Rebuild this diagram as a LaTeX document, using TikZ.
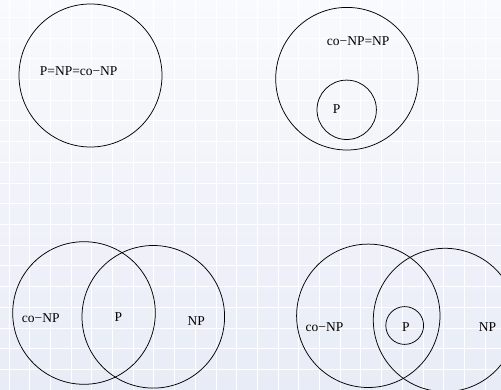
\documentclass[tikz,border=0pt]{standalone}
\usepackage{fontspec}
\setmainfont{Liberation Serif}
\usetikzlibrary{positioning}
\definecolor{bgtop}{RGB}{249,250,253}
\definecolor{bgbot}{RGB}{232,236,246}

\begin{document}
\begin{tikzpicture}[x=1pt,y=-1pt,
    set/.style={circle,draw,inner sep=0pt,line width=0.75pt,minimum size=#1},
    lbl/.style={inner sep=0pt,font=\fontsize{13.5}{16}\selectfont},
]
\useasboundingbox (0,0) rectangle (501,390);
\clip (0,0) rectangle (501,390);

% Background with grid
\shade[top color=bgtop,bottom color=bgbot] (0,0) rectangle (501,390);
\foreach \i in {0,...,23} {
  \draw[white,line width=1pt] (9+20.7*\i,0) -- (9+20.7*\i,390);
}
\foreach \j in {0,...,18} {
  \draw[white,line width=1pt] (0,17.5+20.7*\j) -- (501,17.5+20.7*\j);
}

% P = NP = co-NP
\node[set=143pt] (all) at (90.5,75.5) {};
\node[lbl] (allt) at (78.7,71.5) {P=NP=co−NP};

% co-NP = NP with P inside
\node[set=142.6pt] (conpnp) at (347,78.7) {};
\node[set=59.4pt] (p2) at (346.7,109.8) {};
\node[lbl] (conpnpt) at (358.2,40.7) {co−NP=NP};
\node[lbl] (p2t) at (336.7,109) {P};

% P = NP intersect co-NP
\node[set=142.6pt] (conp3) at (84,313) {};
\node[set=142.6pt] (np3) at (153.3,316.8) {};
\node[lbl] (conp3t) at (40.8,318.3) {co−NP};
\node[lbl] (p3t) at (118.3,317.3) {P};
\node[lbl] (np3t) at (196.3,320.7) {NP};

% P strictly inside NP intersect co-NP
\node[set=143.4pt] (conp4) at (368.3,315.8) {};
\node[set=143.4pt] (np4) at (445,320) {};
\node[set=37.8pt] (p4) at (404.7,325.5) {};
\node[lbl] (conp4t) at (324.5,326.7) {co−NP};
\node[lbl] (p4t) at (406,326.7) {P};
\node[lbl] (np4t) at (487.5,326.7) {NP};
\end{tikzpicture}
\end{document}
